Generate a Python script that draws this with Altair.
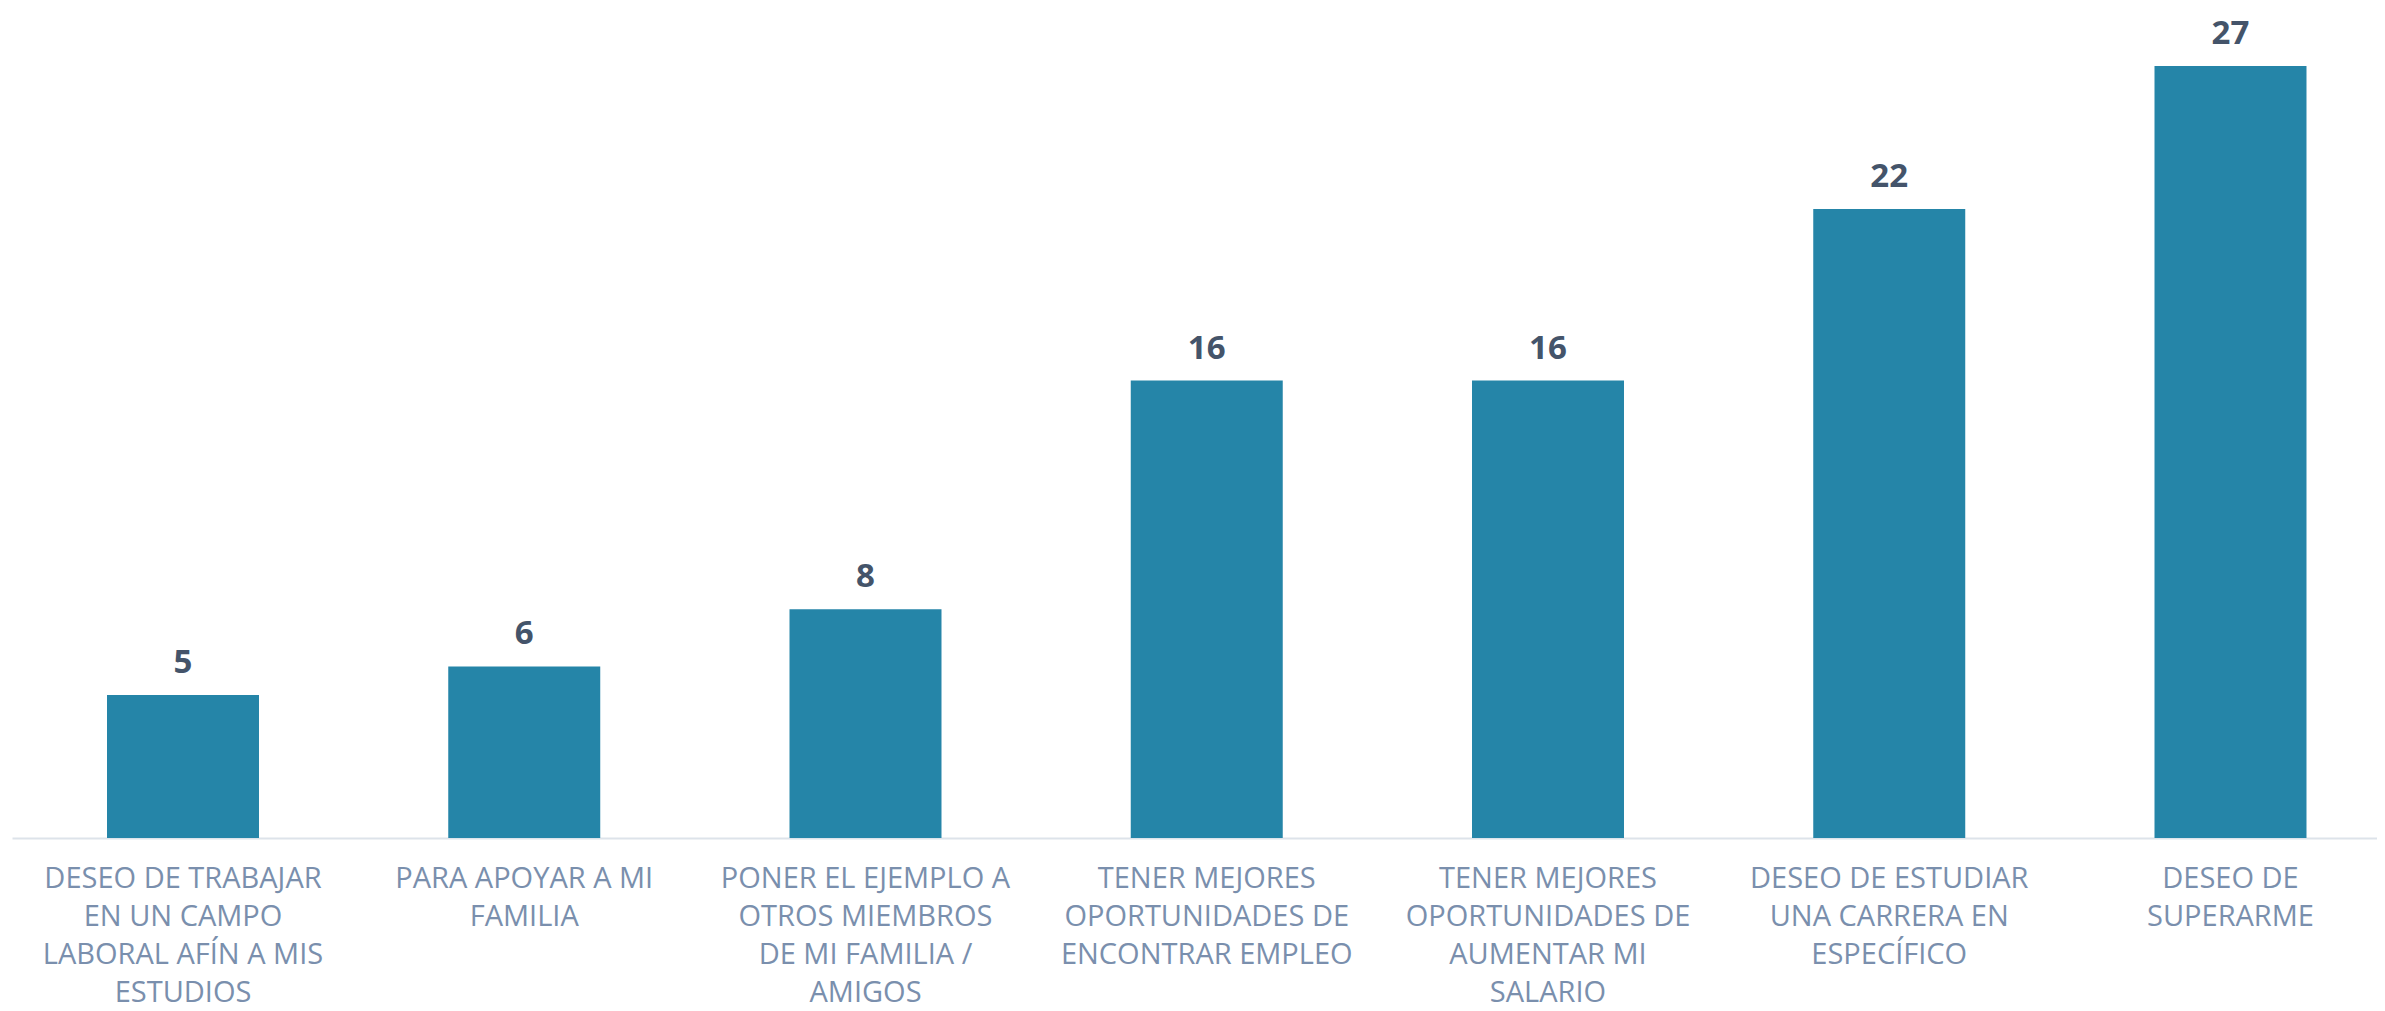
import altair as alt
import pandas as pd

categories = [
    "DESEO DE TRABAJAR|EN UN CAMPO|LABORAL AFÍN A MIS|ESTUDIOS",
    "PARA APOYAR A MI|FAMILIA",
    "PONER EL EJEMPLO A|OTROS MIEMBROS|DE MI FAMILIA /|AMIGOS",
    "TENER MEJORES|OPORTUNIDADES DE|ENCONTRAR EMPLEO",
    "TENER MEJORES|OPORTUNIDADES DE|AUMENTAR MI|SALARIO",
    "DESEO DE ESTUDIAR|UNA CARRERA EN|ESPECÍFICO",
    "DESEO DE|SUPERARME",
]
values = [5, 6, 8, 16, 16, 22, 27]

df = pd.DataFrame({"cat": categories, "val": values})

x = alt.X(
    "cat:N",
    sort=None,
    title=None,
    scale=alt.Scale(paddingInner=0.5546, paddingOuter=0.2425, align=0.574, round=False),
    axis=alt.Axis(
        labelAngle=0,
        labelExpr="split(datum.label, '|')",
        labelFont="Open Sans",
        labelFontSize=29,
        labelColor="#7a8fad",
        labelLineHeight=38,
        labelBaseline="top",
        labelPadding=26,
        labelLimit=500,
        labelOverlap=False,
        ticks=False,
        domainColor="#dde3ea",
        domainWidth=2,
    ),
)
y = alt.Y(
    "val:Q",
    title=None,
    scale=alt.Scale(domain=[0, 29.03], nice=False),
    axis=None,
)

bars = alt.Chart(df).mark_bar(color="#2585a8").encode(x=x, y=y)
labels = alt.Chart(df).mark_text(
    dy=-22, baseline="alphabetic", font="Open Sans", fontWeight="bold",
    fontSize=33, color="#44546a"
).encode(x=x, y=y, text="val:Q")

chart = (
    alt.layer(bars, labels)
    .properties(width=2365, height=830, background="white",
                autosize=alt.AutoSizeParams(type="none"),
                padding={"left": 4, "top": 0, "right": 0, "bottom": 175})
    .configure_view(stroke=None, strokeWidth=0)
)

chart.save("out.html", embed_options={"renderer": "svg", "actions": False})
